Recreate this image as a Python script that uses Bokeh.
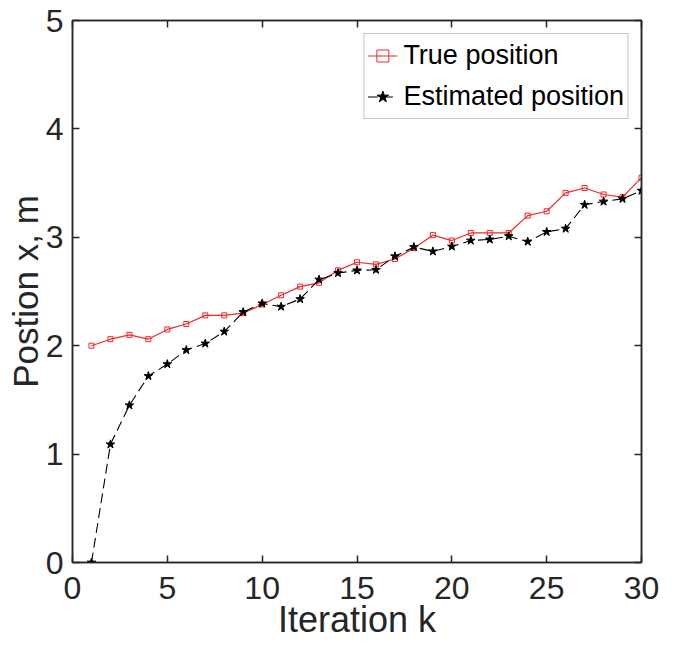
from bokeh.plotting import figure
from bokeh.models import Range1d, LinearAxis, FixedTicker
from bokeh.embed import file_html
from bokeh.resources import INLINE

iterations = list(range(1, 31))
true_pos = [2.00, 2.06, 2.10, 2.06, 2.15, 2.20, 2.28, 2.28, 2.30, 2.38,
            2.465, 2.545, 2.58, 2.695, 2.77, 2.75, 2.80, 2.90, 3.02, 2.97,
            3.04, 3.04, 3.04, 3.20, 3.24, 3.41, 3.455, 3.395, 3.37, 3.55]
est_pos = [0.00, 1.09, 1.45, 1.72, 1.83, 1.96, 2.02, 2.13, 2.31, 2.39,
           2.36, 2.43, 2.61, 2.67, 2.695, 2.70, 2.825, 2.91, 2.87, 2.915,
           2.97, 2.98, 3.01, 2.96, 3.05, 3.08, 3.30, 3.33, 3.355, 3.43]
x_ticks = [0, 5, 10, 15, 20, 25, 30]
y_ticks = [0, 1, 2, 3, 4, 5]

AX = "#262626"
FONT = "Liberation Sans"

p = figure(width=659, height=642, output_backend="svg", toolbar_location=None,
           x_range=Range1d(0, 30), y_range=Range1d(0, 5),
           min_border_left=72, min_border_right=18, min_border_top=20,
           min_border_bottom=40)
p.grid.visible = False
p.background_fill_color = "white"
p.outline_line_color = AX
p.outline_line_width = 1.5

def style(ax, ticks):
    ax.ticker = FixedTicker(ticks=ticks)
    ax.major_tick_in = 7
    ax.major_tick_out = 0
    ax.minor_tick_line_color = None
    ax.axis_line_color = AX
    ax.axis_line_width = 1.5
    ax.major_tick_line_color = AX
    ax.major_tick_line_width = 1.5
    ax.major_label_text_color = AX
    ax.major_label_text_font = FONT
    ax.major_label_text_font_size = "32px"

xa = p.xaxis[0]
ya = p.yaxis[0]
style(xa, x_ticks)
style(ya, y_ticks)
xa.major_label_standoff = 14
ya.major_label_standoff = 9
xa.axis_label = "Iteration k"
xa.axis_label_text_font = FONT
xa.axis_label_text_font_size = "36px"
xa.axis_label_text_font_style = "normal"
xa.axis_label_text_color = AX
xa.axis_label_standoff = -3
ya.axis_label = "Postion x, m"
ya.axis_label_text_font = FONT
ya.axis_label_text_font_size = "35px"
ya.axis_label_text_font_style = "normal"
ya.axis_label_text_color = AX
ya.axis_label_standoff = -2

top = LinearAxis()
style(top, x_ticks)
top.major_label_overrides = {t: "" for t in x_ticks}
top.major_label_standoff = 0
top.axis_label_standoff = 0
p.add_layout(top, "above")
right = LinearAxis()
style(right, y_ticks)
right.major_label_overrides = {t: "" for t in y_ticks}
right.major_label_standoff = 0
right.axis_label_standoff = 0
p.add_layout(right, "right")

RED = "#f02828"
p.line(iterations, true_pos, line_color=RED, line_width=1.2, legend_label="True position")
p.scatter(iterations, true_pos, marker="square", size=5, line_color=RED,
          fill_color=None, line_width=1, legend_label="True position")
p.line(iterations, est_pos, line_color="black", line_width=1.1, line_dash="10 5",
       legend_label="Estimated position")
p.scatter(iterations, est_pos, marker="star", size=9, line_color="black",
          fill_color="black", legend_label="Estimated position")

lg = p.legend[0]
lg.location = "top_right"
lg.margin = 13
lg.padding = 3
lg.spacing = 4
lg.glyph_width = 30
lg.glyph_height = 37
lg.label_height = 37
lg.label_standoff = 6
lg.label_text_font = FONT
lg.label_text_font_size = "27px"
lg.label_text_color = "black"
lg.border_line_color = "#8a8a8a"
lg.border_line_width = 1
lg.background_fill_color = "white"

open("out.html", "w").write(file_html(p, INLINE))
